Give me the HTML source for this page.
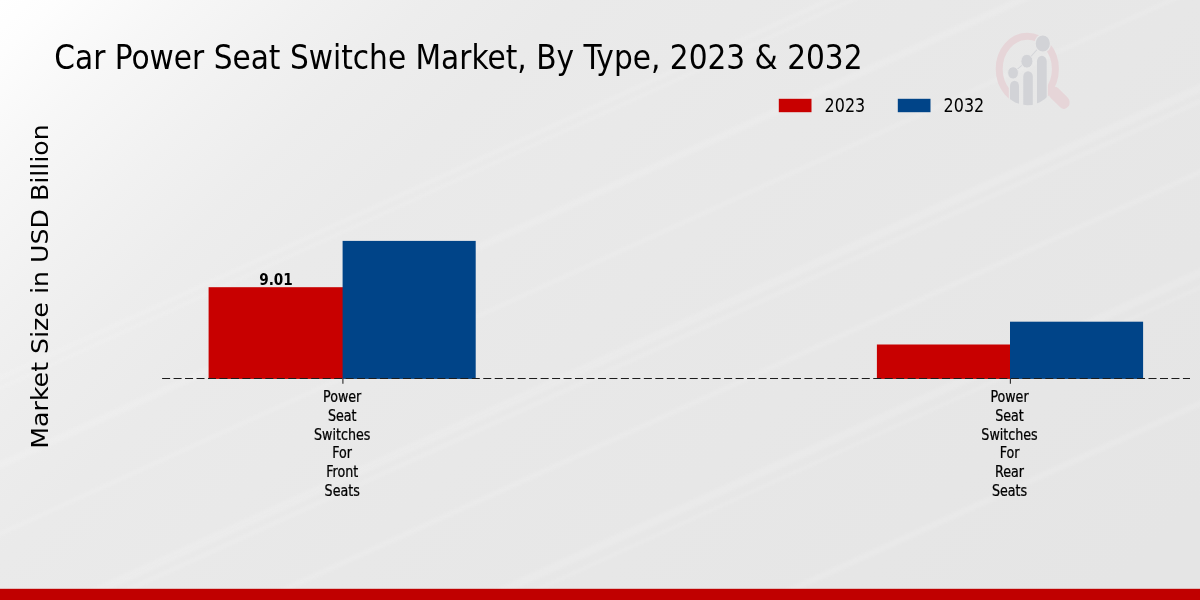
<!DOCTYPE html>
<html><head><meta charset="utf-8"><title>Car Power Seat Switche Market</title>
<style>
html,body{margin:0;padding:0;background:#e8e8e8;}
body{width:1200px;height:600px;overflow:hidden;position:relative;}
svg{position:absolute;left:0;top:0;display:block}
.c{font-family:"DejaVu Sans Condensed","DejaVu Sans","Liberation Sans",sans-serif;font-stretch:condensed;}
.n{font-family:"DejaVu Sans","Liberation Sans",sans-serif;}
</style></head><body>
<svg width="1200" height="600" viewBox="0 0 1200 600">
<defs>
<linearGradient id="bg" x1="0" y1="0" x2="840" y2="857" gradientUnits="userSpaceOnUse">
<stop offset="0" stop-color="#ffffff"/>
<stop offset="0.033" stop-color="#fdfdfd"/>
<stop offset="0.1" stop-color="#f7f7f7"/>
<stop offset="0.183" stop-color="#f1f1f1"/>
<stop offset="0.25" stop-color="#ededed"/>
<stop offset="0.333" stop-color="#eaeaea"/>
<stop offset="0.54" stop-color="#e8e8e8"/>
<stop offset="1" stop-color="#e5e5e5"/>
</linearGradient>
<filter id="soft" x="-5%" y="-5%" width="110%" height="110%"><feGaussianBlur stdDeviation="1.6"/></filter>
<clipPath id="rc"><path clip-rule="evenodd" d="M980 20H1080V120H980Z M1008.8 77H1047.9V115H1008.8Z"/></clipPath>
<clipPath id="lc"><circle cx="0" cy="0" r="36.2"/></clipPath>
</defs>
<rect width="1200" height="600" fill="url(#bg)"/>
<!-- streaks -->
<g id="streaks" fill="#ffffff" opacity="0.12" transform="rotate(-24.5 600 300)" filter="url(#soft)">
<rect x="-300" y="120" width="1800" height="4"/>
<rect x="-300" y="130" width="1800" height="3"/>
<rect x="-300" y="198" width="1800" height="7"/>
<rect x="-300" y="262" width="1800" height="4"/>
<rect x="-300" y="352" width="1800" height="8"/>
<rect x="-300" y="366" width="1800" height="4"/>
<rect x="-300" y="430" width="1800" height="5"/>
<rect x="-300" y="520" width="1800" height="8"/>
<rect x="-300" y="536" width="1800" height="3"/>
<rect x="-300" y="640" width="1800" height="6"/>
</g>
<!-- logo -->
<ellipse cx="1027.3" cy="69" rx="28.1" ry="32.7" fill="none" stroke="#e6d5d8" stroke-width="7" clip-path="url(#rc)"/>
<g id="logo" transform="translate(1027.3,69) scale(0.873,1)">
<line x1="31" y1="24" x2="42" y2="33.4" stroke="#e6d5d8" stroke-width="13" stroke-linecap="round"/>
<g clip-path="url(#lc)" fill="#d2d3d7">
<path d="M-19.8 40V16.9a5.15 5.15 0 0 1 10.3 0V40z"/>
<path d="M-4.6 40V7.6a5.45 5.45 0 0 1 10.9 0V40z"/>
<path d="M11.1 40V-7.7a5.55 5.55 0 0 1 11.1 0V40z"/>
</g>
<path d="M-16.3 3.9L-0.5 -7.8L17.7 -25.8" fill="none" stroke="#d4d5d9" stroke-width="1.1"/>
<circle cx="17.75" cy="-25.5" r="8.8" fill="#d2d3d7" stroke="#e8e8e8" stroke-width="1.4"/>
<circle cx="-0.46" cy="-7.8" r="6.9" fill="#d2d3d7" stroke="#e8e8e8" stroke-width="1"/>
<circle cx="-16.3" cy="3.9" r="6.2" fill="#d2d3d7" stroke="#e8e8e8" stroke-width="1"/>
</g>
<!-- bars -->
<rect x="208.6" y="287.2" width="135" height="91.7" fill="#c80000"/>
<rect x="342.6" y="240.9" width="133.1" height="138" fill="#004488"/>
<rect x="876.9" y="344.5" width="134" height="34.4" fill="#c80000"/>
<rect x="1010" y="321.7" width="133.1" height="57.2" fill="#004488"/>
<line x1="162.1" y1="378.45" x2="1190" y2="378.45" stroke="#1c1c1c" stroke-width="1.15" stroke-dasharray="8 3.47"/>
<line x1="342.9" y1="378.9" x2="342.9" y2="383.7" stroke="#2a2a2a" stroke-width="1.1"/>
<line x1="1010.4" y1="378.9" x2="1010.4" y2="383.7" stroke="#2a2a2a" stroke-width="1.1"/>
<text class="c" transform="translate(54.3,68.7) scale(0.9607,1)" font-size="34.3">Car Power Seat Switche Market, By Type, 2023 &amp; 2032</text>
<text class="n" transform="translate(47.8,286.5) rotate(-90) scale(1,0.9)" text-anchor="middle" font-size="25.25">Market Size in USD Billion</text>
<text class="c" transform="translate(276,284.6) scale(0.96,1)" text-anchor="middle" font-size="15.8" font-weight="bold">9.01</text>
<rect x="778.8" y="98.8" width="32.7" height="13.4" fill="#c80000"/>
<rect x="897.8" y="98.8" width="32.7" height="13.4" fill="#004488"/>
<text class="c" transform="translate(824.6,112.2) scale(0.91,1)" font-size="19.5">2023</text>
<text class="c" transform="translate(943.6,112.2) scale(0.91,1)" font-size="19.5">2032</text>
<g class="c" font-size="15.4" text-anchor="middle" stroke="#000" stroke-width="0.25">
<text transform="translate(342.2,401.90) scale(0.915,1)">Power</text>
<text transform="translate(342.2,420.75) scale(0.915,1)">Seat</text>
<text transform="translate(342.2,439.60) scale(0.915,1)">Switches</text>
<text transform="translate(342.2,458.45) scale(0.915,1)">For</text>
<text transform="translate(342.2,477.30) scale(0.915,1)">Front</text>
<text transform="translate(342.2,496.15) scale(0.915,1)">Seats</text>
<text transform="translate(1009.5,401.90) scale(0.915,1)">Power</text>
<text transform="translate(1009.5,420.75) scale(0.915,1)">Seat</text>
<text transform="translate(1009.5,439.60) scale(0.915,1)">Switches</text>
<text transform="translate(1009.5,458.45) scale(0.915,1)">For</text>
<text transform="translate(1009.5,477.30) scale(0.915,1)">Rear</text>
<text transform="translate(1009.5,496.15) scale(0.915,1)">Seats</text>
</g>
<rect x="0" y="588.8" width="1200" height="11.2" fill="#c00000"/>
</svg>
</body></html>
